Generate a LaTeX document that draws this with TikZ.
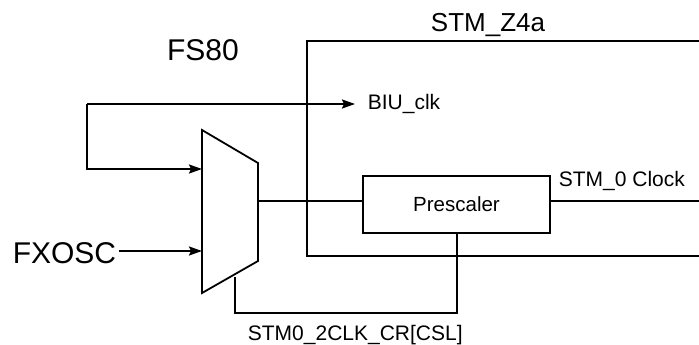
\documentclass[tikz,border=0pt]{standalone}
\usepackage{fontspec}
\setmainfont{Liberation Sans}
\usetikzlibrary{arrows.meta, positioning}

\begin{document}
\begin{tikzpicture}[x=1pt, y=-1pt, line width=1.8pt, >={Stealth[length=13pt, width=9pt, inset=2pt]},
  lbl/.style={inner sep=0pt, font=\fontsize{21}{24}\selectfont},
  biglbl/.style={inner sep=0pt, font=\fontsize{30}{34}\selectfont},
  blockbox/.style={draw, minimum width=187pt, minimum height=57pt, inner sep=0pt, font=\fontsize{20.5}{24}\selectfont}]
\useasboundingbox (0,0) rectangle (699,345);

% STM_Z4a module outline (runs off the right edge)
\draw (699,41) -- (307,41) -- (307,256) -- (699,256);
\node (modname) [lbl, font=\fontsize{26}{30}\selectfont, anchor=base] at (488,32) {STM\_Z4a};
\node (chip) [biglbl, anchor=base] at (203,60) {FS80};

% clock mux
\coordinate (muxTL) at (202,130);
\coordinate (muxBL) at (202,293);
\coordinate (muxTR) at (258,163);
\coordinate (muxBR) at (258,261);
\draw (muxTL) -- (muxTR) -- (muxBR) -- (muxBL) -- cycle;
\coordinate (muxA) at (202,169);
\coordinate (muxB) at (202,251);
\coordinate (muxOut) at (258,201);
\coordinate (muxSel) at (235,277);

\node (pre) [blockbox] at (456.5,204.5) {Prescaler};

% inputs
\node (fxosc) [biglbl, anchor=base east] at (117,263) {FXOSC};
\draw[->] (fxosc.east |- muxB) ++(2,0) -- (muxB);
\coordinate (fork) at (87,104);
\node (biu) [lbl, anchor=base west] at (367,110) {BIU\_clk};
\draw[->] (fork) -- (355,104);
\draw[->] (fork) |- (muxA);

% outputs and select
\draw (muxOut) -- (muxOut -| pre.west);
\draw (pre.east |- muxOut) -- (699,201);
\node (clkout) [lbl, anchor=base west] at (558,186) {STM\_0 Clock};
\draw (muxSel) |- (457,313) -- (pre.south -| 457,0);
\node (csl) [lbl, anchor=base west] at (247,340) {STM0\_2CLK\_CR[CSL]};
\end{tikzpicture}
\end{document}
